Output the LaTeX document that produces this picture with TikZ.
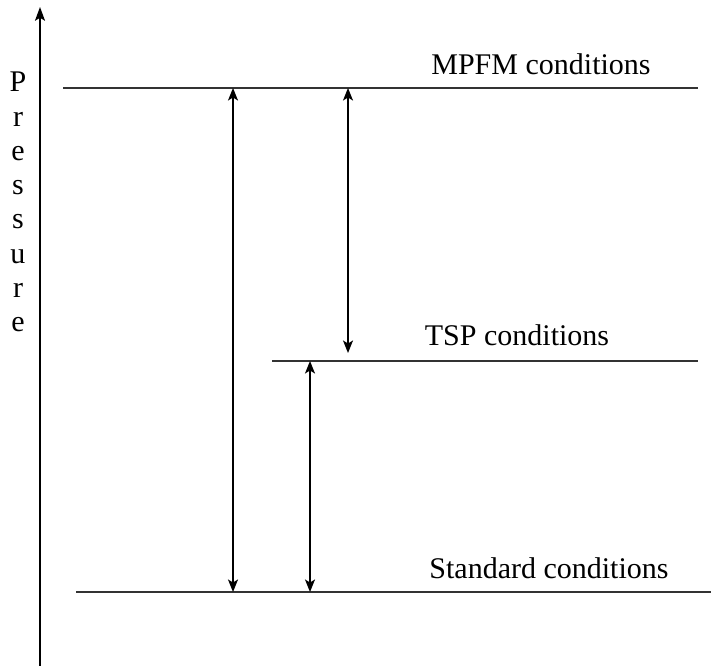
\documentclass[tikz,border=0pt]{standalone}
\usepackage{fontspec}
\setmainfont{Liberation Serif}
\usepackage{tikz}
\usetikzlibrary{positioning, arrows.meta}

\begin{document}
\begin{tikzpicture}[x=0.4pt, y=-0.4pt, line width=0.6pt,
    level/.style={draw=black!80},
    span/.style={{Stealth[length=5pt, width=4pt, inset=1.2pt]}-{Stealth[length=5pt, width=4pt, inset=1.2pt]}},
    lbl/.style={anchor=base, inner sep=0pt, font=\fontsize{12}{14}\selectfont}]
    \useasboundingbox (0,0) rectangle (727,666);
    \coordinate (axbot) at (40,666);
    \coordinate (axtop) at (40,7);
    \draw[-{Stealth[length=5.5pt, width=4pt, inset=1.2pt]}] (axbot) -- (axtop);
    \foreach \ch [count=\i] in {P,r,e,s,s,u,r,e}
      \node[lbl] (pr\i) at (18,{92+(\i-1)*34.2}) {\ch};
    \coordinate (mpfmL) at (63,88);
    \coordinate (mpfmR) at (698,88);
    \coordinate (tspL) at (272,361);
    \coordinate (tspR) at (698,361);
    \coordinate (stdL) at (76,592);
    \coordinate (stdR) at (711,592);
    \draw[level] (mpfmL) -- (mpfmR);
    \draw[level] (tspL) -- (tspR);
    \draw[level] (stdL) -- (stdR);
    \node[lbl] (mpfm) at (541,75) {MPFM conditions};
    \node[lbl] (tsp) at (517,345) {TSP conditions};
    \node[lbl] (std) at (549,578) {Standard conditions};
    \coordinate (a1t) at (233,88);
    \coordinate (a1b) at (233,592);
    \coordinate (a2t) at (348,88);
    \coordinate (a2b) at (348,353);
    \coordinate (a3t) at (310,361);
    \coordinate (a3b) at (310,592);
    \draw[span] (a1t) -- (a1b);
    \draw[span] (a2t) -- (a2b);
    \draw[span] (a3t) -- (a3b);
  \end{tikzpicture}
\end{document}
